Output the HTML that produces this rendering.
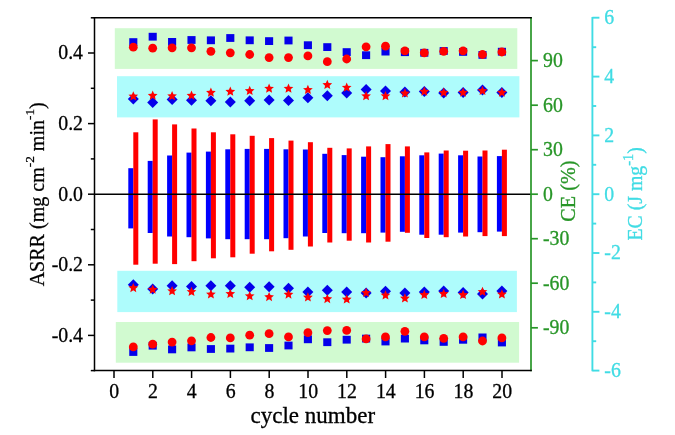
<!DOCTYPE html>
<html><head><meta charset="utf-8"><title>chart</title>
<style>html,body{margin:0;padding:0;background:#fff;overflow:hidden}</style></head>
<body>
<svg width="675" height="435" viewBox="0 0 675 435" style="display:block" font-family="'Liberation Serif', serif">
<rect width="675" height="435" fill="#fff"/>
<rect x="114.8" y="28.2" width="402.5" height="40.7" fill="#d1fad0"/>
<rect x="117" y="76.2" width="402.4" height="41.2" fill="#aefcfc"/>
<rect x="117.3" y="270.8" width="399.6" height="41.3" fill="#aefcfc"/>
<rect x="115.8" y="322.0" width="403.3" height="40.7" fill="#d1fad0"/>
<rect x="128.30" y="168.2" width="5" height="60.2" fill="#0000ff"/>
<rect x="133.30" y="132.3" width="5" height="132.4" fill="#ff0000"/>
<rect x="147.70" y="160.9" width="5" height="72.1" fill="#0000ff"/>
<rect x="152.70" y="119.4" width="5" height="144.3" fill="#ff0000"/>
<rect x="167.10" y="155.5" width="5" height="81.0" fill="#0000ff"/>
<rect x="172.10" y="124.4" width="5" height="139.7" fill="#ff0000"/>
<rect x="186.50" y="152.6" width="5" height="84.6" fill="#0000ff"/>
<rect x="191.50" y="128.5" width="5" height="132.7" fill="#ff0000"/>
<rect x="205.90" y="151.6" width="5" height="86.8" fill="#0000ff"/>
<rect x="210.90" y="132.3" width="5" height="126.0" fill="#ff0000"/>
<rect x="225.30" y="149.3" width="5" height="89.9" fill="#0000ff"/>
<rect x="230.30" y="134.3" width="5" height="123.0" fill="#ff0000"/>
<rect x="244.70" y="148.9" width="5" height="90.3" fill="#0000ff"/>
<rect x="249.70" y="135.8" width="5" height="117.9" fill="#ff0000"/>
<rect x="264.10" y="148.9" width="5" height="90.3" fill="#0000ff"/>
<rect x="269.10" y="138.1" width="5" height="113.2" fill="#ff0000"/>
<rect x="283.50" y="149.3" width="5" height="88.9" fill="#0000ff"/>
<rect x="288.50" y="140.6" width="5" height="109.2" fill="#ff0000"/>
<rect x="302.90" y="149.5" width="5" height="87.0" fill="#0000ff"/>
<rect x="307.90" y="142.2" width="5" height="104.3" fill="#ff0000"/>
<rect x="322.30" y="153.8" width="5" height="79.2" fill="#0000ff"/>
<rect x="327.30" y="147.8" width="5" height="94.7" fill="#ff0000"/>
<rect x="341.70" y="155.1" width="5" height="78.1" fill="#0000ff"/>
<rect x="346.70" y="148.4" width="5" height="92.3" fill="#ff0000"/>
<rect x="361.10" y="156.7" width="5" height="76.5" fill="#0000ff"/>
<rect x="366.10" y="146.4" width="5" height="96.1" fill="#ff0000"/>
<rect x="380.50" y="157.2" width="5" height="75.4" fill="#0000ff"/>
<rect x="385.50" y="144.1" width="5" height="97.6" fill="#ff0000"/>
<rect x="399.90" y="156.3" width="5" height="75.5" fill="#0000ff"/>
<rect x="404.90" y="146.4" width="5" height="86.4" fill="#ff0000"/>
<rect x="419.30" y="155.3" width="5" height="79.4" fill="#0000ff"/>
<rect x="424.30" y="152.4" width="5" height="85.6" fill="#ff0000"/>
<rect x="438.70" y="153.6" width="5" height="81.1" fill="#0000ff"/>
<rect x="443.70" y="150.5" width="5" height="86.7" fill="#ff0000"/>
<rect x="458.10" y="155.3" width="5" height="77.3" fill="#0000ff"/>
<rect x="463.10" y="150.7" width="5" height="85.8" fill="#ff0000"/>
<rect x="477.50" y="156.5" width="5" height="75.7" fill="#0000ff"/>
<rect x="482.50" y="150.5" width="5" height="85.6" fill="#ff0000"/>
<rect x="496.90" y="156.1" width="5" height="75.5" fill="#0000ff"/>
<rect x="501.90" y="149.7" width="5" height="86.4" fill="#ff0000"/>
<line x1="94.5" y1="194.2" x2="531.0" y2="194.2" stroke="#000" stroke-width="1.6"/>
<rect x="129.25" y="38.20" width="8.1" height="7.8" fill="#0500ea"/>
<circle cx="133.30" cy="47.20" r="4.4" fill="#ff0000"/>
<polygon points="133.30,93.50 138.80,99.00 133.30,104.50 127.80,99.00" fill="#0500ea"/>
<polygon points="133.30,91.20 134.68,94.40 138.15,94.72 135.53,97.03 136.30,100.43 133.30,98.65 130.30,100.43 131.07,97.03 128.45,94.72 131.92,94.40" fill="#ff0000"/>
<rect x="129.25" y="348.10" width="8.1" height="7.8" fill="#0500ea"/>
<circle cx="133.30" cy="346.90" r="4.4" fill="#ff0000"/>
<polygon points="133.30,279.20 138.80,284.70 133.30,290.20 127.80,284.70" fill="#0500ea"/>
<polygon points="133.30,282.90 134.68,286.10 138.15,286.42 135.53,288.73 136.30,292.13 133.30,290.35 130.30,292.13 131.07,288.73 128.45,286.42 131.92,286.10" fill="#ff0000"/>
<rect x="148.65" y="32.80" width="8.1" height="7.8" fill="#0500ea"/>
<circle cx="152.70" cy="48.20" r="4.4" fill="#ff0000"/>
<polygon points="152.70,97.00 158.20,102.50 152.70,108.00 147.20,102.50" fill="#0500ea"/>
<polygon points="152.70,90.60 154.08,93.80 157.55,94.12 154.93,96.43 155.70,99.83 152.70,98.05 149.70,99.83 150.47,96.43 147.85,94.12 151.32,93.80" fill="#ff0000"/>
<rect x="148.65" y="341.80" width="8.1" height="7.8" fill="#0500ea"/>
<circle cx="152.70" cy="344.20" r="4.4" fill="#ff0000"/>
<polygon points="152.70,283.40 158.20,288.90 152.70,294.40 147.20,288.90" fill="#0500ea"/>
<polygon points="152.70,284.60 154.08,287.80 157.55,288.12 154.93,290.43 155.70,293.83 152.70,292.05 149.70,293.83 150.47,290.43 147.85,288.12 151.32,287.80" fill="#ff0000"/>
<rect x="168.05" y="38.00" width="8.1" height="7.8" fill="#0500ea"/>
<circle cx="172.10" cy="47.80" r="4.4" fill="#ff0000"/>
<polygon points="172.10,93.90 177.60,99.40 172.10,104.90 166.60,99.40" fill="#0500ea"/>
<polygon points="172.10,91.00 173.48,94.20 176.95,94.52 174.33,96.83 175.10,100.23 172.10,98.45 169.10,100.23 169.87,96.83 167.25,94.52 170.72,94.20" fill="#ff0000"/>
<rect x="168.05" y="345.50" width="8.1" height="7.8" fill="#0500ea"/>
<circle cx="172.10" cy="342.10" r="4.4" fill="#ff0000"/>
<polygon points="172.10,280.20 177.60,285.70 172.10,291.20 166.60,285.70" fill="#0500ea"/>
<polygon points="172.10,286.00 173.48,289.20 176.95,289.52 174.33,291.83 175.10,295.23 172.10,293.45 169.10,295.23 169.87,291.83 167.25,289.52 170.72,289.20" fill="#ff0000"/>
<rect x="187.45" y="36.10" width="8.1" height="7.8" fill="#0500ea"/>
<circle cx="191.50" cy="47.80" r="4.4" fill="#ff0000"/>
<polygon points="191.50,94.70 197.00,100.20 191.50,105.70 186.00,100.20" fill="#0500ea"/>
<polygon points="191.50,90.60 192.88,93.80 196.35,94.12 193.73,96.43 194.50,99.83 191.50,98.05 188.50,99.83 189.27,96.43 186.65,94.12 190.12,93.80" fill="#ff0000"/>
<rect x="187.45" y="343.50" width="8.1" height="7.8" fill="#0500ea"/>
<circle cx="191.50" cy="340.80" r="4.4" fill="#ff0000"/>
<polygon points="191.50,280.90 197.00,286.40 191.50,291.90 186.00,286.40" fill="#0500ea"/>
<polygon points="191.50,286.70 192.88,289.90 196.35,290.22 193.73,292.53 194.50,295.93 191.50,294.15 188.50,295.93 189.27,292.53 186.65,290.22 190.12,289.90" fill="#ff0000"/>
<rect x="206.85" y="36.40" width="8.1" height="7.8" fill="#0500ea"/>
<circle cx="210.90" cy="51.30" r="4.4" fill="#ff0000"/>
<polygon points="210.90,95.30 216.40,100.80 210.90,106.30 205.40,100.80" fill="#0500ea"/>
<polygon points="210.90,87.60 212.28,90.80 215.75,91.12 213.13,93.43 213.90,96.83 210.90,95.05 207.90,96.83 208.67,93.43 206.05,91.12 209.52,90.80" fill="#ff0000"/>
<rect x="206.85" y="345.10" width="8.1" height="7.8" fill="#0500ea"/>
<circle cx="210.90" cy="337.50" r="4.4" fill="#ff0000"/>
<polygon points="210.90,280.20 216.40,285.70 210.90,291.20 205.40,285.70" fill="#0500ea"/>
<polygon points="210.90,289.20 212.28,292.40 215.75,292.72 213.13,295.03 213.90,298.43 210.90,296.65 207.90,298.43 208.67,295.03 206.05,292.72 209.52,292.40" fill="#ff0000"/>
<rect x="226.25" y="34.10" width="8.1" height="7.8" fill="#0500ea"/>
<circle cx="230.30" cy="52.80" r="4.4" fill="#ff0000"/>
<polygon points="230.30,96.40 235.80,101.90 230.30,107.40 224.80,101.90" fill="#0500ea"/>
<polygon points="230.30,86.60 231.68,89.80 235.15,90.12 232.53,92.43 233.30,95.83 230.30,94.05 227.30,95.83 228.07,92.43 225.45,90.12 228.92,89.80" fill="#ff0000"/>
<rect x="226.25" y="344.70" width="8.1" height="7.8" fill="#0500ea"/>
<circle cx="230.30" cy="337.90" r="4.4" fill="#ff0000"/>
<polygon points="230.30,280.20 235.80,285.70 230.30,291.20 224.80,285.70" fill="#0500ea"/>
<polygon points="230.30,288.70 231.68,291.90 235.15,292.22 232.53,294.53 233.30,297.93 230.30,296.15 227.30,297.93 228.07,294.53 225.45,292.22 228.92,291.90" fill="#ff0000"/>
<rect x="245.65" y="36.40" width="8.1" height="7.8" fill="#0500ea"/>
<circle cx="249.70" cy="54.50" r="4.4" fill="#ff0000"/>
<polygon points="249.70,95.30 255.20,100.80 249.70,106.30 244.20,100.80" fill="#0500ea"/>
<polygon points="249.70,85.80 251.08,89.00 254.55,89.32 251.93,91.63 252.70,95.03 249.70,93.25 246.70,95.03 247.47,91.63 244.85,89.32 248.32,89.00" fill="#ff0000"/>
<rect x="245.65" y="343.40" width="8.1" height="7.8" fill="#0500ea"/>
<circle cx="249.70" cy="335.20" r="4.4" fill="#ff0000"/>
<polygon points="249.70,281.80 255.20,287.30 249.70,292.80 244.20,287.30" fill="#0500ea"/>
<polygon points="249.70,291.00 251.08,294.20 254.55,294.52 251.93,296.83 252.70,300.23 249.70,298.45 246.70,300.23 247.47,296.83 244.85,294.52 248.32,294.20" fill="#ff0000"/>
<rect x="265.05" y="37.20" width="8.1" height="7.8" fill="#0500ea"/>
<circle cx="269.10" cy="57.60" r="4.4" fill="#ff0000"/>
<polygon points="269.10,94.50 274.60,100.00 269.10,105.50 263.60,100.00" fill="#0500ea"/>
<polygon points="269.10,83.50 270.48,86.70 273.95,87.02 271.33,89.33 272.10,92.73 269.10,90.95 266.10,92.73 266.87,89.33 264.25,87.02 267.72,86.70" fill="#ff0000"/>
<rect x="265.05" y="344.10" width="8.1" height="7.8" fill="#0500ea"/>
<circle cx="269.10" cy="333.70" r="4.4" fill="#ff0000"/>
<polygon points="269.10,281.30 274.60,286.80 269.10,292.30 263.60,286.80" fill="#0500ea"/>
<polygon points="269.10,291.90 270.48,295.10 273.95,295.42 271.33,297.73 272.10,301.13 269.10,299.35 266.10,301.13 266.87,297.73 264.25,295.42 267.72,295.10" fill="#ff0000"/>
<rect x="284.45" y="36.60" width="8.1" height="7.8" fill="#0500ea"/>
<circle cx="288.50" cy="57.60" r="4.4" fill="#ff0000"/>
<polygon points="288.50,94.90 294.00,100.40 288.50,105.90 283.00,100.40" fill="#0500ea"/>
<polygon points="288.50,83.50 289.88,86.70 293.35,87.02 290.73,89.33 291.50,92.73 288.50,90.95 285.50,92.73 286.27,89.33 283.65,87.02 287.12,86.70" fill="#ff0000"/>
<rect x="284.45" y="341.60" width="8.1" height="7.8" fill="#0500ea"/>
<circle cx="288.50" cy="336.90" r="4.4" fill="#ff0000"/>
<polygon points="288.50,282.70 294.00,288.20 288.50,293.70 283.00,288.20" fill="#0500ea"/>
<polygon points="288.50,289.40 289.88,292.60 293.35,292.92 290.73,295.23 291.50,298.63 288.50,296.85 285.50,298.63 286.27,295.23 283.65,292.92 287.12,292.60" fill="#ff0000"/>
<rect x="303.85" y="41.30" width="8.1" height="7.8" fill="#0500ea"/>
<circle cx="307.90" cy="55.90" r="4.4" fill="#ff0000"/>
<polygon points="307.90,92.20 313.40,97.70 307.90,103.20 302.40,97.70" fill="#0500ea"/>
<polygon points="307.90,84.70 309.28,87.90 312.75,88.22 310.13,90.53 310.90,93.93 307.90,92.15 304.90,93.93 305.67,90.53 303.05,88.22 306.52,87.90" fill="#ff0000"/>
<rect x="303.85" y="335.40" width="8.1" height="7.8" fill="#0500ea"/>
<circle cx="307.90" cy="332.70" r="4.4" fill="#ff0000"/>
<polygon points="307.90,286.50 313.40,292.00 307.90,297.50 302.40,292.00" fill="#0500ea"/>
<polygon points="307.90,292.30 309.28,295.50 312.75,295.82 310.13,298.13 310.90,301.53 307.90,299.75 304.90,301.53 305.67,298.13 303.05,295.82 306.52,295.50" fill="#ff0000"/>
<rect x="323.25" y="43.20" width="8.1" height="7.8" fill="#0500ea"/>
<circle cx="327.30" cy="61.70" r="4.4" fill="#ff0000"/>
<polygon points="327.30,90.30 332.80,95.80 327.30,101.30 321.80,95.80" fill="#0500ea"/>
<polygon points="327.30,79.80 328.68,83.00 332.15,83.32 329.53,85.63 330.30,89.03 327.30,87.25 324.30,89.03 325.07,85.63 322.45,83.32 325.92,83.00" fill="#ff0000"/>
<rect x="323.25" y="338.30" width="8.1" height="7.8" fill="#0500ea"/>
<circle cx="327.30" cy="330.60" r="4.4" fill="#ff0000"/>
<polygon points="327.30,284.80 332.80,290.30 327.30,295.80 321.80,290.30" fill="#0500ea"/>
<polygon points="327.30,293.90 328.68,297.10 332.15,297.42 329.53,299.73 330.30,303.13 327.30,301.35 324.30,303.13 325.07,299.73 322.45,297.42 325.92,297.10" fill="#ff0000"/>
<rect x="342.65" y="48.20" width="8.1" height="7.8" fill="#0500ea"/>
<circle cx="346.70" cy="59.00" r="4.4" fill="#ff0000"/>
<polygon points="346.70,87.60 352.20,93.10 346.70,98.60 341.20,93.10" fill="#0500ea"/>
<polygon points="346.70,82.50 348.08,85.70 351.55,86.02 348.93,88.33 349.70,91.73 346.70,89.95 343.70,91.73 344.47,88.33 341.85,86.02 345.32,85.70" fill="#ff0000"/>
<rect x="342.65" y="335.80" width="8.1" height="7.8" fill="#0500ea"/>
<circle cx="346.70" cy="330.40" r="4.4" fill="#ff0000"/>
<polygon points="346.70,286.50 352.20,292.00 346.70,297.50 341.20,292.00" fill="#0500ea"/>
<polygon points="346.70,294.30 348.08,297.50 351.55,297.82 348.93,300.13 349.70,303.53 346.70,301.75 343.70,303.53 344.47,300.13 341.85,297.82 345.32,297.50" fill="#ff0000"/>
<rect x="362.05" y="51.30" width="8.1" height="7.8" fill="#0500ea"/>
<circle cx="366.10" cy="46.80" r="4.4" fill="#ff0000"/>
<polygon points="366.10,83.90 371.60,89.40 366.10,94.90 360.60,89.40" fill="#0500ea"/>
<polygon points="366.10,91.00 367.48,94.20 370.95,94.52 368.33,96.83 369.10,100.23 366.10,98.45 363.10,100.23 363.87,96.83 361.25,94.52 364.72,94.20" fill="#ff0000"/>
<rect x="362.05" y="334.70" width="8.1" height="7.8" fill="#0500ea"/>
<circle cx="366.10" cy="338.90" r="4.4" fill="#ff0000"/>
<polygon points="366.10,287.50 371.60,293.00 366.10,298.50 360.60,293.00" fill="#0500ea"/>
<polygon points="366.10,287.70 367.48,290.90 370.95,291.22 368.33,293.53 369.10,296.93 366.10,295.15 363.10,296.93 363.87,293.53 361.25,291.22 364.72,290.90" fill="#ff0000"/>
<rect x="381.45" y="47.70" width="8.1" height="7.8" fill="#0500ea"/>
<circle cx="385.50" cy="46.20" r="4.4" fill="#ff0000"/>
<polygon points="385.50,85.60 391.00,91.10 385.50,96.60 380.00,91.10" fill="#0500ea"/>
<polygon points="385.50,91.00 386.88,94.20 390.35,94.52 387.73,96.83 388.50,100.23 385.50,98.45 382.50,100.23 383.27,96.83 380.65,94.52 384.12,94.20" fill="#ff0000"/>
<rect x="381.45" y="337.60" width="8.1" height="7.8" fill="#0500ea"/>
<circle cx="385.50" cy="336.90" r="4.4" fill="#ff0000"/>
<polygon points="385.50,285.80 391.00,291.30 385.50,296.80 380.00,291.30" fill="#0500ea"/>
<polygon points="385.50,290.20 386.88,293.40 390.35,293.72 387.73,296.03 388.50,299.43 385.50,297.65 382.50,299.43 383.27,296.03 380.65,293.72 384.12,293.40" fill="#ff0000"/>
<rect x="400.85" y="48.30" width="8.1" height="7.8" fill="#0500ea"/>
<circle cx="404.90" cy="50.90" r="4.4" fill="#ff0000"/>
<polygon points="404.90,86.40 410.40,91.90 404.90,97.40 399.40,91.90" fill="#0500ea"/>
<polygon points="404.90,88.30 406.28,91.50 409.75,91.82 407.13,94.13 407.90,97.53 404.90,95.75 401.90,97.53 402.67,94.13 400.05,91.82 403.52,91.50" fill="#ff0000"/>
<rect x="400.85" y="334.70" width="8.1" height="7.8" fill="#0500ea"/>
<circle cx="404.90" cy="331.30" r="4.4" fill="#ff0000"/>
<polygon points="404.90,287.50 410.40,293.00 404.90,298.50 399.40,293.00" fill="#0500ea"/>
<polygon points="404.90,293.30 406.28,296.50 409.75,296.82 407.13,299.13 407.90,302.53 404.90,300.75 401.90,302.53 402.67,299.13 400.05,296.82 403.52,296.50" fill="#ff0000"/>
<rect x="420.25" y="48.90" width="8.1" height="7.8" fill="#0500ea"/>
<circle cx="424.30" cy="52.80" r="4.4" fill="#ff0000"/>
<polygon points="424.30,86.00 429.80,91.50 424.30,97.00 418.80,91.50" fill="#0500ea"/>
<polygon points="424.30,86.60 425.68,89.80 429.15,90.12 426.53,92.43 427.30,95.83 424.30,94.05 421.30,95.83 422.07,92.43 419.45,90.12 422.92,89.80" fill="#ff0000"/>
<rect x="420.25" y="336.50" width="8.1" height="7.8" fill="#0500ea"/>
<circle cx="424.30" cy="336.90" r="4.4" fill="#ff0000"/>
<polygon points="424.30,286.50 429.80,292.00 424.30,297.50 418.80,292.00" fill="#0500ea"/>
<polygon points="424.30,289.80 425.68,293.00 429.15,293.32 426.53,295.63 427.30,299.03 424.30,297.25 421.30,299.03 422.07,295.63 419.45,293.32 422.92,293.00" fill="#ff0000"/>
<rect x="439.65" y="47.10" width="8.1" height="7.8" fill="#0500ea"/>
<circle cx="443.70" cy="51.30" r="4.4" fill="#ff0000"/>
<polygon points="443.70,87.40 449.20,92.90 443.70,98.40 438.20,92.90" fill="#0500ea"/>
<polygon points="443.70,87.60 445.08,90.80 448.55,91.12 445.93,93.43 446.70,96.83 443.70,95.05 440.70,96.83 441.47,93.43 438.85,91.12 442.32,90.80" fill="#ff0000"/>
<rect x="439.65" y="338.00" width="8.1" height="7.8" fill="#0500ea"/>
<circle cx="443.70" cy="338.30" r="4.4" fill="#ff0000"/>
<polygon points="443.70,285.40 449.20,290.90 443.70,296.40 438.20,290.90" fill="#0500ea"/>
<polygon points="443.70,288.70 445.08,291.90 448.55,292.22 445.93,294.53 446.70,297.93 443.70,296.15 440.70,297.93 441.47,294.53 438.85,292.22 442.32,291.90" fill="#ff0000"/>
<rect x="459.05" y="48.00" width="8.1" height="7.8" fill="#0500ea"/>
<circle cx="463.10" cy="50.80" r="4.4" fill="#ff0000"/>
<polygon points="463.10,87.00 468.60,92.50 463.10,98.00 457.60,92.50" fill="#0500ea"/>
<polygon points="463.10,87.60 464.48,90.80 467.95,91.12 465.33,93.43 466.10,96.83 463.10,95.05 460.10,96.83 460.87,93.43 458.25,91.12 461.72,90.80" fill="#ff0000"/>
<rect x="459.05" y="335.90" width="8.1" height="7.8" fill="#0500ea"/>
<circle cx="463.10" cy="336.90" r="4.4" fill="#ff0000"/>
<polygon points="463.10,286.90 468.60,292.40 463.10,297.90 457.60,292.40" fill="#0500ea"/>
<polygon points="463.10,289.80 464.48,293.00 467.95,293.32 465.33,295.63 466.10,299.03 463.10,297.25 460.10,299.03 460.87,295.63 458.25,293.32 461.72,293.00" fill="#ff0000"/>
<rect x="478.45" y="51.00" width="8.1" height="7.8" fill="#0500ea"/>
<circle cx="482.50" cy="54.50" r="4.4" fill="#ff0000"/>
<polygon points="482.50,84.50 488.00,90.00 482.50,95.50 477.00,90.00" fill="#0500ea"/>
<polygon points="482.50,85.80 483.88,89.00 487.35,89.32 484.73,91.63 485.50,95.03 482.50,93.25 479.50,95.03 480.27,91.63 477.65,89.32 481.12,89.00" fill="#ff0000"/>
<rect x="478.45" y="333.50" width="8.1" height="7.8" fill="#0500ea"/>
<circle cx="482.50" cy="341.00" r="4.4" fill="#ff0000"/>
<polygon points="482.50,288.50 488.00,294.00 482.50,299.50 477.00,294.00" fill="#0500ea"/>
<polygon points="482.50,286.70 483.88,289.90 487.35,290.22 484.73,292.53 485.50,295.93 482.50,294.15 479.50,295.93 480.27,292.53 477.65,290.22 481.12,289.90" fill="#ff0000"/>
<rect x="497.85" y="47.80" width="8.1" height="7.8" fill="#0500ea"/>
<circle cx="501.90" cy="52.00" r="4.4" fill="#ff0000"/>
<polygon points="501.90,87.00 507.40,92.50 501.90,98.00 496.40,92.50" fill="#0500ea"/>
<polygon points="501.90,87.60 503.28,90.80 506.75,91.12 504.13,93.43 504.90,96.83 501.90,95.05 498.90,96.83 499.67,93.43 497.05,91.12 500.52,90.80" fill="#ff0000"/>
<rect x="497.85" y="338.60" width="8.1" height="7.8" fill="#0500ea"/>
<circle cx="501.90" cy="337.90" r="4.4" fill="#ff0000"/>
<polygon points="501.90,285.40 507.40,290.90 501.90,296.40 496.40,290.90" fill="#0500ea"/>
<polygon points="501.90,289.20 503.28,292.40 506.75,292.72 504.13,295.03 504.90,298.43 501.90,296.65 498.90,298.43 499.67,295.03 497.05,292.72 500.52,292.40" fill="#ff0000"/>
<g stroke="#289628" stroke-width="1.7" fill="none">
<path d="M531.0 17.099999999999998 V371.20000000000005"/>
<path d="M531.0 327.8 H537.9"/>
<path d="M531.0 283.2 H537.9"/>
<path d="M531.0 238.7 H537.9"/>
<path d="M531.0 194.2 H537.9"/>
<path d="M531.0 149.7 H537.9"/>
<path d="M531.0 105.2 H537.9"/>
<path d="M531.0 60.6 H537.9"/>
</g>
<g stroke="#000" stroke-width="1.5" fill="none">
<path d="M94.5 16.95 V371.35"/>
<path d="M93.75 17.7 H531.8"/>
<path d="M93.75 370.6 H531.8"/>
<path d="M90.8 370.6 H94.5"/>
<path d="M88.0 335.4 H94.5"/>
<path d="M90.8 300.1 H94.5"/>
<path d="M88.0 264.8 H94.5"/>
<path d="M90.8 229.5 H94.5"/>
<path d="M88.0 194.2 H94.5"/>
<path d="M90.8 158.9 H94.5"/>
<path d="M88.0 123.6 H94.5"/>
<path d="M90.8 88.3 H94.5"/>
<path d="M88.0 53.0 H94.5"/>
<path d="M90.8 17.8 H94.5"/>
<path d="M114.0 370.6 V378.0"/>
<path d="M152.8 370.6 V378.0"/>
<path d="M191.6 370.6 V378.0"/>
<path d="M230.4 370.6 V378.0"/>
<path d="M269.2 370.6 V378.0"/>
<path d="M308.0 370.6 V378.0"/>
<path d="M346.8 370.6 V378.0"/>
<path d="M385.6 370.6 V378.0"/>
<path d="M424.4 370.6 V378.0"/>
<path d="M463.2 370.6 V378.0"/>
<path d="M502.0 370.6 V378.0"/>
</g>
<g stroke="#40dce4" stroke-width="1.9" fill="none">
<path d="M592.4 16.95 V371.35"/>
<path d="M592.4 370.6 H599.4"/>
<path d="M592.4 341.2 H596.1999999999999"/>
<path d="M592.4 311.8 H599.4"/>
<path d="M592.4 282.4 H596.1999999999999"/>
<path d="M592.4 253.0 H599.4"/>
<path d="M592.4 223.6 H596.1999999999999"/>
<path d="M592.4 194.2 H599.4"/>
<path d="M592.4 164.8 H596.1999999999999"/>
<path d="M592.4 135.4 H599.4"/>
<path d="M592.4 106.0 H596.1999999999999"/>
<path d="M592.4 76.6 H599.4"/>
<path d="M592.4 47.2 H596.1999999999999"/>
<path d="M592.4 17.7 H599.4"/>
</g>
<text transform="translate(83.0 59.4) scale(1 1.07)" font-size="19.8" text-anchor="end" fill="#000" stroke="#000" stroke-width="0.3">0.4</text>
<text transform="translate(83.0 130.0) scale(1 1.07)" font-size="19.8" text-anchor="end" fill="#000" stroke="#000" stroke-width="0.3">0.2</text>
<text transform="translate(83.0 200.6) scale(1 1.07)" font-size="19.8" text-anchor="end" fill="#000" stroke="#000" stroke-width="0.3">0.0</text>
<text transform="translate(83.0 271.2) scale(1 1.07)" font-size="19.8" text-anchor="end" fill="#000" stroke="#000" stroke-width="0.3">-0.2</text>
<text transform="translate(83.0 341.8) scale(1 1.07)" font-size="19.8" text-anchor="end" fill="#000" stroke="#000" stroke-width="0.3">-0.4</text>
<text transform="translate(114.2 397.8) scale(1 1.07)" font-size="19.8" text-anchor="middle" fill="#000" stroke="#000" stroke-width="0.3">0</text>
<text transform="translate(153.0 397.8) scale(1 1.07)" font-size="19.8" text-anchor="middle" fill="#000" stroke="#000" stroke-width="0.3">2</text>
<text transform="translate(191.8 397.8) scale(1 1.07)" font-size="19.8" text-anchor="middle" fill="#000" stroke="#000" stroke-width="0.3">4</text>
<text transform="translate(230.6 397.8) scale(1 1.07)" font-size="19.8" text-anchor="middle" fill="#000" stroke="#000" stroke-width="0.3">6</text>
<text transform="translate(269.4 397.8) scale(1 1.07)" font-size="19.8" text-anchor="middle" fill="#000" stroke="#000" stroke-width="0.3">8</text>
<text transform="translate(308.2 397.8) scale(1 1.07)" font-size="19.8" text-anchor="middle" fill="#000" stroke="#000" stroke-width="0.3">10</text>
<text transform="translate(347.0 397.8) scale(1 1.07)" font-size="19.8" text-anchor="middle" fill="#000" stroke="#000" stroke-width="0.3">12</text>
<text transform="translate(385.8 397.8) scale(1 1.07)" font-size="19.8" text-anchor="middle" fill="#000" stroke="#000" stroke-width="0.3">14</text>
<text transform="translate(424.6 397.8) scale(1 1.07)" font-size="19.8" text-anchor="middle" fill="#000" stroke="#000" stroke-width="0.3">16</text>
<text transform="translate(463.4 397.8) scale(1 1.07)" font-size="19.8" text-anchor="middle" fill="#000" stroke="#000" stroke-width="0.3">18</text>
<text transform="translate(502.2 397.8) scale(1 1.07)" font-size="19.8" text-anchor="middle" fill="#000" stroke="#000" stroke-width="0.3">20</text>
<text transform="translate(543.0 334.2) scale(1 1.07)" font-size="19.8" text-anchor="start" fill="#289628" stroke="#289628" stroke-width="0.3">-90</text>
<text transform="translate(543.0 289.6) scale(1 1.07)" font-size="19.8" text-anchor="start" fill="#289628" stroke="#289628" stroke-width="0.3">-60</text>
<text transform="translate(543.0 245.1) scale(1 1.07)" font-size="19.8" text-anchor="start" fill="#289628" stroke="#289628" stroke-width="0.3">-30</text>
<text transform="translate(543.0 200.6) scale(1 1.07)" font-size="19.8" text-anchor="start" fill="#289628" stroke="#289628" stroke-width="0.3">0</text>
<text transform="translate(543.0 156.1) scale(1 1.07)" font-size="19.8" text-anchor="start" fill="#289628" stroke="#289628" stroke-width="0.3">30</text>
<text transform="translate(543.0 111.6) scale(1 1.07)" font-size="19.8" text-anchor="start" fill="#289628" stroke="#289628" stroke-width="0.3">60</text>
<text transform="translate(543.0 67.0) scale(1 1.07)" font-size="19.8" text-anchor="start" fill="#289628" stroke="#289628" stroke-width="0.3">90</text>
<text transform="translate(604.3 377.0) scale(1 1.07)" font-size="19.8" text-anchor="start" fill="#40dce4" stroke="#40dce4" stroke-width="0.3">-6</text>
<text transform="translate(604.3 318.2) scale(1 1.07)" font-size="19.8" text-anchor="start" fill="#40dce4" stroke="#40dce4" stroke-width="0.3">-4</text>
<text transform="translate(604.3 259.4) scale(1 1.07)" font-size="19.8" text-anchor="start" fill="#40dce4" stroke="#40dce4" stroke-width="0.3">-2</text>
<text transform="translate(604.3 200.6) scale(1 1.07)" font-size="19.8" text-anchor="start" fill="#40dce4" stroke="#40dce4" stroke-width="0.3">0</text>
<text transform="translate(604.3 141.8) scale(1 1.07)" font-size="19.8" text-anchor="start" fill="#40dce4" stroke="#40dce4" stroke-width="0.3">2</text>
<text transform="translate(604.3 83.0) scale(1 1.07)" font-size="19.8" text-anchor="start" fill="#40dce4" stroke="#40dce4" stroke-width="0.3">4</text>
<text transform="translate(604.3 24.1) scale(1 1.07)" font-size="19.8" text-anchor="start" fill="#40dce4" stroke="#40dce4" stroke-width="0.3">6</text>
<text x="312.8" y="422.8" font-size="23" text-anchor="middle" fill="#000" stroke="#000" stroke-width="0.3">cycle number</text>
<text transform="translate(43.8 194.3) rotate(-90)" font-size="20.05" text-anchor="middle" fill="#000" stroke="#000" stroke-width="0.25" style="white-space:pre">ASRR (mg cm<tspan font-size="13.3" dy="-9.5">-2</tspan><tspan dy="9.5"> min</tspan><tspan font-size="13.3" dy="-9.5">-1</tspan><tspan dy="9.5">)</tspan></text>
<text transform="translate(575.3 191.1) rotate(-90) scale(1 1.045)" font-size="20.2" text-anchor="middle" fill="#289628" stroke="#289628" stroke-width="0.3" style="white-space:pre">CE (%)</text>
<text transform="translate(641.9 193.9) rotate(-90) scale(1 1.09)" font-size="19.8" text-anchor="middle" fill="#40dce4" stroke="#40dce4" stroke-width="0.3" style="white-space:pre">EC (J mg<tspan font-size="14.3" dy="-8.1">-1</tspan><tspan dy="8.1">)</tspan></text>
</svg>
</body></html>
